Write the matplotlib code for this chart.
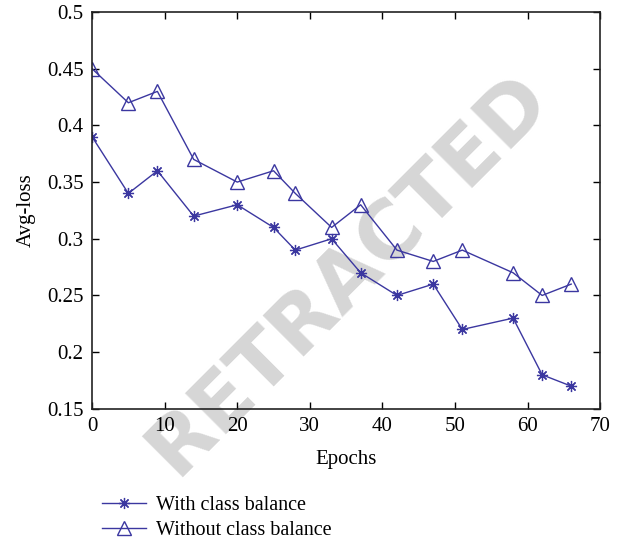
import matplotlib
matplotlib.use("Agg")
import matplotlib.pyplot as plt

epochs = [0, 5, 9, 14, 20, 25, 28, 33, 37, 42, 47, 51, 58, 62, 66]
with_balance = [0.39, 0.34, 0.36, 0.32, 0.33, 0.31, 0.29, 0.30, 0.27, 0.25, 0.26, 0.22, 0.23, 0.18, 0.17]
without_balance = [0.45, 0.42, 0.43, 0.37, 0.35, 0.36, 0.34, 0.31, 0.33, 0.29, 0.28, 0.29, 0.27, 0.25, 0.26]
xticks = [0, 10, 20, 30, 40, 50, 60, 70]
yticks = [0.15, 0.2, 0.25, 0.3, 0.35, 0.4, 0.45, 0.5]
ytick_labels = ["0.15", "0.2", "0.25", "0.3", "0.35", "0.4", "0.45", "0.5"]

plt.rcParams['font.family'] = ['Liberation Serif', 'DejaVu Serif']
color = "#3b37a0"

fig = plt.figure(figsize=(6.22, 5.48), dpi=100)
# watermark (behind everything)
fig.text(0.56, 0.5, "RETRACTED", fontsize=58, color="#d6d6d6", rotation=45,
         ha="center", va="center", family="DejaVu Sans", fontweight="bold", zorder=-5)

ax = fig.add_axes([0.148, 0.254, 0.817, 0.724])
ax.patch.set_alpha(0)
ax.plot(epochs, with_balance, color=color, lw=1.0, marker=(8, 2, 0), markersize=8,
        markeredgewidth=0.9, label="With class balance")
ax.plot(epochs, without_balance, color=color, lw=1.0, marker="^", markersize=10,
        markerfacecolor="none", markeredgewidth=1.0, label="Without class balance")
ax.set_xlim(0, 70)
ax.set_ylim(0.15, 0.5)
ax.set_xticks(xticks)
ax.set_yticks(yticks)
ax.set_yticklabels(ytick_labels)
ax.tick_params(direction="in", labelsize=15, length=5, top=True, right=True, width=1, pad=6)
for s in ax.spines.values():
    s.set_linewidth(1.2)
    s.set_color("#222222")
ax.set_xlabel("Epochs", fontsize=15, labelpad=10)
ax.set_ylabel("Avg-loss", fontsize=15, labelpad=8)

fig.legend(loc="lower left", bbox_to_anchor=(0.135, -0.018), frameon=False, fontsize=14.5,
           handlelength=2.2, labelspacing=0.3, handletextpad=0.5)
fig.savefig("out.png", dpi=100)
